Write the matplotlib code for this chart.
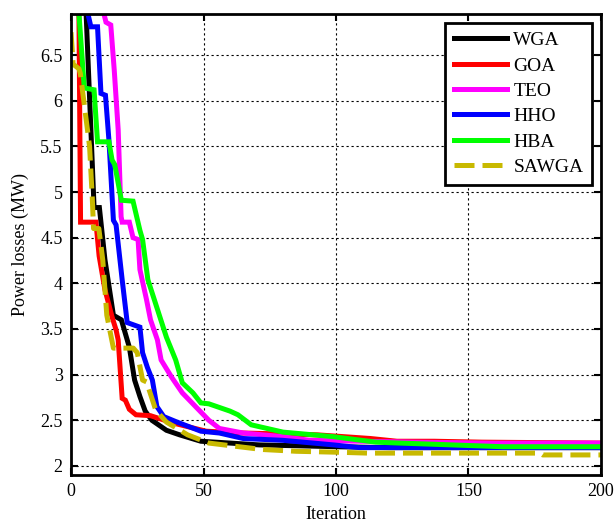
import matplotlib
matplotlib.use("Agg")
import matplotlib.pyplot as plt
from matplotlib.ticker import FuncFormatter

plt.rcParams['font.family'] = ['Liberation Serif', 'DejaVu Serif']

# Convergence curves: (iteration, power loss in MW)
wga_it = [0, 5.7, 7.5, 8.7, 10.7, 12.8, 16, 19, 22, 24, 26, 28, 30.5, 36, 41, 49, 60, 71, 86, 100, 120, 150, 172, 200]
wga_pl = [8.0, 6.95, 5.68, 4.83, 4.83, 4.26, 3.65, 3.6, 3.3, 2.94, 2.76, 2.6, 2.5, 2.39, 2.34, 2.27, 2.25, 2.23, 2.22, 2.21, 2.2, 2.2, 2.2, 2.2]

goa_it = [0, 3.0, 3.6, 9.4, 10.6, 12.8, 15.5, 17, 17.8, 19.3, 20.5, 22, 24.5, 30, 38.5, 51, 65, 93, 113, 123, 137, 155, 200]
goa_pl = [9.5, 6.9, 4.67, 4.67, 4.3, 3.93, 3.63, 3.49, 3.38, 2.74, 2.72, 2.62, 2.56, 2.55, 2.47, 2.38, 2.36, 2.34, 2.3, 2.27, 2.27, 2.26, 2.25]

teo_it = [0, 12, 13.2, 15, 16.3, 17.8, 18.9, 19.3, 22, 23.4, 25.3, 26, 28.5, 30, 32.6, 34, 38, 42, 47, 52, 56, 65, 80, 90, 110, 130, 160, 200]
teo_pl = [9.0, 7.0, 6.86, 6.83, 6.34, 5.68, 4.73, 4.67, 4.67, 4.5, 4.48, 4.15, 3.82, 3.6, 3.38, 3.16, 2.97, 2.8, 2.65, 2.5, 2.41, 2.36, 2.32, 2.28, 2.27, 2.26, 2.25, 2.25]

hho_it = [0, 6.4, 7.5, 10, 11.3, 13, 14.3, 16, 17, 19.3, 21.2, 26, 27, 28.8, 30.7, 32.4, 35, 40, 49, 56, 65, 80, 99, 109, 140, 172, 200]
hho_pl = [9.0, 6.95, 6.81, 6.81, 6.08, 6.06, 5.57, 4.69, 4.64, 4.04, 3.57, 3.52, 3.24, 3.08, 2.94, 2.65, 2.54, 2.48, 2.38, 2.36, 2.3, 2.28, 2.23, 2.2, 2.2, 2.2, 2.2]

hba_it = [0, 3, 5, 8.7, 10, 14.3, 15.5, 16.5, 19, 23.4, 26, 27, 29, 33, 36, 39.5, 42, 46, 49, 52, 55, 60, 63, 68, 80, 99, 115, 124, 134, 163, 200]
hba_pl = [9.0, 6.95, 6.14, 6.12, 5.55, 5.55, 5.35, 5.3, 4.91, 4.9, 4.58, 4.48, 4.04, 3.68, 3.41, 3.16, 2.91, 2.8, 2.69, 2.68, 2.65, 2.6, 2.56, 2.45, 2.37, 2.32, 2.26, 2.25, 2.24, 2.21, 2.21]

sawga_it = [0, 0.8, 3, 3.5, 7, 8, 8.5, 10.5, 12, 13.5, 16, 23.5, 25, 27, 28.5, 32, 36, 44, 52, 72, 85, 100, 112, 177, 178, 200]
sawga_pl = [6.75, 6.4, 6.35, 6.3, 5.5, 4.95, 4.6, 4.6, 4.25, 3.65, 3.29, 3.29, 3.24, 2.94, 2.92, 2.61, 2.48, 2.34, 2.25, 2.18, 2.16, 2.15, 2.14, 2.14, 2.12, 2.12]

labels = ['WGA', 'GOA', 'TEO', 'HHO', 'HBA', 'SAWGA']
colors = ['#000000', '#ff0000', '#ff00ff', '#0000ff', '#00ff00', '#c8b900']
x_ticks = [0, 50, 100, 150, 200]
y_ticks = [2, 2.5, 3, 3.5, 4, 4.5, 5, 5.5, 6, 6.5]

fig = plt.figure(figsize=(6.16, 5.25), dpi=100)
ax = fig.add_axes([0.1153, 0.0952, 0.8603, 0.8781])

series = [(wga_it, wga_pl), (goa_it, goa_pl), (teo_it, teo_pl),
          (hho_it, hho_pl), (hba_it, hba_pl)]
for (it, pl), lab, col in zip(series, labels[:5], colors[:5]):
    ax.plot(it, pl, color=col, lw=3.6, label=lab, solid_joinstyle='miter')
ax.plot(sawga_it, sawga_pl, color=colors[5], lw=3.6, label=labels[5],
        linestyle=(0, (4, 1.6)))

ax.set_xlim(0, 200)
ax.set_ylim(1.9, 6.95)
ax.set_xticks(x_ticks)
ax.set_yticks(y_ticks)
ax.yaxis.set_major_formatter(FuncFormatter(lambda v, p: '%g' % v))
ax.grid(True, color='black', linestyle=(0, (2, 2.5)), linewidth=0.8)
ax.tick_params(direction='in', top=True, right=True, length=5, width=1.5,
               labelsize=13, pad=6)
for s in ax.spines.values():
    s.set_linewidth(2)

ax.set_xlabel('Iteration', fontsize=13, labelpad=4)
ax.set_ylabel('Power losses (MW)', fontsize=13, labelpad=8)

leg = ax.legend(loc='upper right', fontsize=14, fancybox=False, framealpha=1,
                edgecolor='black', handlelength=2.7, handletextpad=0.35,
                labelspacing=0.4, borderpad=0.45, borderaxespad=0.45)
leg.get_frame().set_linewidth(2)

fig.savefig('out.png', dpi=100)
